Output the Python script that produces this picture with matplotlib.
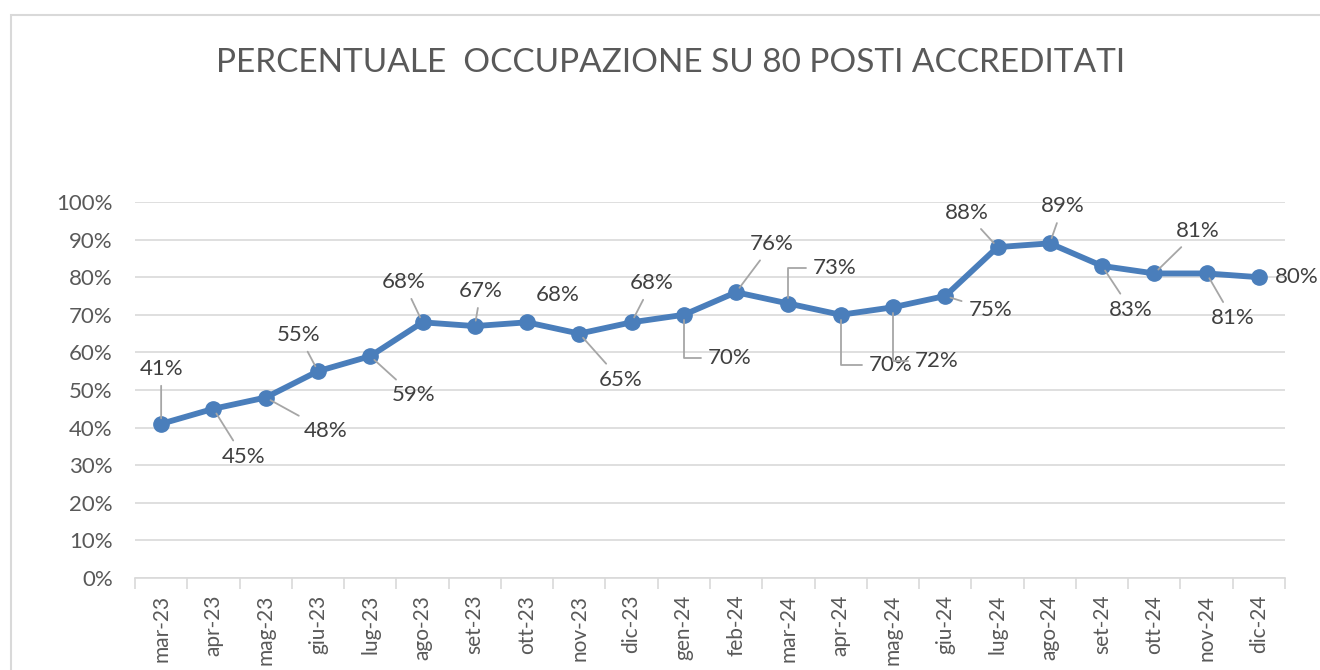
import matplotlib.pyplot as plt
from matplotlib.patches import Rectangle
from matplotlib.ticker import FixedLocator, PercentFormatter

plt.rcParams["font.family"] = ["Lato", "DejaVu Sans"]

TITLE = "PERCENTUALE  OCCUPAZIONE SU 80 POSTI ACCREDITATI"

months = [
    "mar-23", "apr-23", "mag-23", "giu-23", "lug-23", "ago-23", "set-23",
    "ott-23", "nov-23", "dic-23", "gen-24", "feb-24", "mar-24", "apr-24",
    "mag-24", "giu-24", "lug-24", "ago-24", "set-24", "ott-24", "nov-24",
    "dic-24",
]
occupancy = [41, 45, 48, 55, 59, 68, 67, 68, 65, 68, 70, 76,
             73, 70, 72, 75, 88, 89, 83, 81, 81, 80]

# label offsets in pixels (dx right, dy down) and leader style per point
label_offsets = [
    (0, -55), (30, 48), (60, 33), (-19, -36), (43, 39), (-19, -40),
    (6, -35), (31, -27), (41, 46), (20, -39), (46, 43), (36, -48),
    (46, -36), (50, 50), (44, 54), (45, 14), (-31, -34), (13, -37),
    (29, 44), (43, -42), (26, 45), (38, 0),
]
leader = [
    "line", "line", "line", "line", "line", "line",
    "line", None, "line", "line", "elbow", "line",
    "elbow", "elbow", "elbow", "line", "line", "line",
    "line", "line", "line", None,
]

LINE_COLOR = "#4a7ebb"
TEXT_COLOR = "#595959"
LABEL_COLOR = "#404040"
GRID_COLOR = "#d9d9d9"
LEADER_COLOR = "#a6a6a6"


def main():
    fig = plt.figure(figsize=(13.2, 6.7), dpi=100)
    fig.patch.set_facecolor("white")

    # chart area border (cut at right/bottom like the screenshot)
    fig.patches.append(Rectangle((11 / 1320, -0.2), 1.3, 0.2 + 655 / 670,
                                 transform=fig.transFigure, fill=False,
                                 edgecolor="#d9d9d9", linewidth=1.5))

    ax = fig.add_axes([135 / 1320, 1 - 578 / 670,
                       (1285 - 135) / 1320, (578 - 202) / 670])

    x = list(range(len(months)))
    ax.plot(x, occupancy, color=LINE_COLOR, linewidth=4.2, marker="o",
            markersize=11, zorder=3, solid_capstyle="round")

    ax.set_xlim(-0.5, len(months) - 0.5)
    ax.set_ylim(0, 100)
    ax.yaxis.set_major_locator(FixedLocator(range(0, 101, 10)))
    ax.yaxis.set_major_formatter(PercentFormatter(decimals=0))
    ax.grid(axis="y", color=GRID_COLOR, linewidth=1.2)
    ax.set_axisbelow(True)

    ax.set_xticks(x)
    ax.set_xticklabels(months, rotation=90, fontsize=15, color=TEXT_COLOR)
    ax.set_xticks([i - 0.5 for i in range(len(months) + 1)], minor=True)
    ax.tick_params(axis="x", which="major", length=0, pad=12)
    ax.tick_params(axis="x", which="minor", length=8, color=GRID_COLOR,
                   width=1.2)
    ax.tick_params(axis="y", length=0, pad=16, labelsize=16,
                   labelcolor=TEXT_COLOR)

    for side in ["top", "right", "left"]:
        ax.spines[side].set_visible(False)
    ax.spines["bottom"].set_color(GRID_COLOR)
    ax.spines["bottom"].set_linewidth(1.2)

    for i, v in enumerate(occupancy):
        dx, dy = label_offsets[i]
        props = None
        if leader[i] == "line":
            props = dict(arrowstyle="-", color=LEADER_COLOR, linewidth=1.3,
                         shrinkA=3, shrinkB=4)
        elif leader[i] == "elbow":
            props = dict(arrowstyle="-", color=LEADER_COLOR, linewidth=1.3,
                         shrinkA=3, shrinkB=4,
                         connectionstyle="angle,angleA=0,angleB=90,rad=0")
        ax.annotate(f"{v}%", xy=(i, v), xytext=(dx, -dy),
                    textcoords="offset pixels", ha="center", va="center",
                    fontsize=16, color=LABEL_COLOR, arrowprops=props,
                    annotation_clip=False, zorder=4)

    fig.text(671 / 1320, 1 - 63 / 670, TITLE, ha="center", va="center",
             fontsize=24, color=TEXT_COLOR)

    fig.savefig("out.png", dpi=100)


if __name__ == "__main__":
    main()
